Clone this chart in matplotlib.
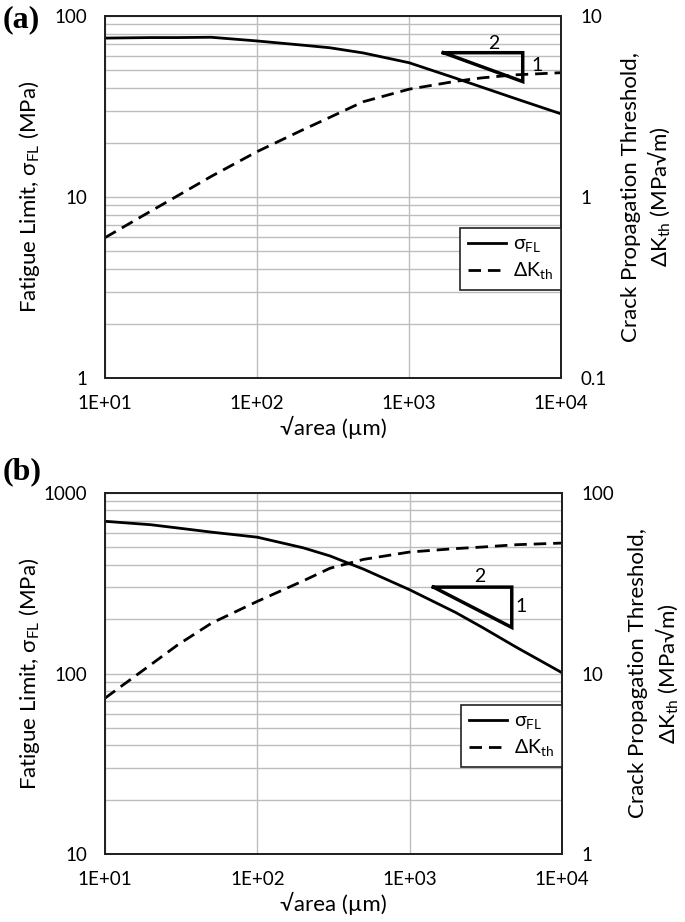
import matplotlib
matplotlib.use("Agg")
import matplotlib.pyplot as plt
from matplotlib.ticker import FixedLocator, FixedFormatter, NullFormatter, LogLocator

plt.rcParams['font.family'] = ['Lato', 'DejaVu Sans']
plt.rcParams['mathtext.fontset'] = 'custom'
plt.rcParams['mathtext.rm'] = 'Lato'

# ---------------- data ----------------
sqrt_area = [10, 20, 30, 50, 100, 200, 300, 500, 1000, 2000, 3000, 5000, 10000]

# panel (a)
sigma_a = [75.5, 76, 76, 76.3, 72.8, 69, 66.8, 62.5, 55.2, 45.5, 40.5, 35.0, 28.8]
dk_a = [0.596, 0.835, 1.015, 1.30, 1.78, 2.35, 2.75, 3.36, 3.94, 4.35, 4.55, 4.73, 4.86]

# panel (b)
sigma_b = [697, 667, 640, 607, 569, 497, 448, 378, 291, 218, 180, 140, 101]
dk_b = [7.3, 11.2, 14.4, 19.0, 25.1, 32.6, 38.3, 42.9, 47.1, 49.2, 50.2, 51.7, 52.8]

# slope triangles (data coords on left axis)
tri_a_x = [1683, 5600, 5600, 1683]
tri_a_y = [62.7, 62.7, 43.4, 62.7]
tri_b_x = [1432, 4680, 4680, 1432]
tri_b_y = [301, 301, 180, 301]
tri_a_labels = [("2", 3620, 70.6), ("1", 6920, 53.6)]
tri_b_labels = [("2", 2900, 346), ("1", 5360, 235)]

xticks = [10, 100, 1000, 10000]
xtick_labels = ['1E+01', '1E+02', '1E+03', '1E+04']

yl_a = [1, 10, 100]
yl_a_labels = ['1', '10', '100']
yr_a = [0.1, 1, 10]
yr_a_labels = ['0.1', '1', '10']
yl_b = [10, 100, 1000]
yl_b_labels = ['10', '100', '1000']
yr_b = [1, 10, 100]
yr_b_labels = ['1', '10', '100']

W, H = 685, 922
fig = plt.figure(figsize=(W / 100, H / 100), dpi=100)

GRID = '#bdbdbd'
FS_TICK = 13.5
FS_LAB = 16


def make_panel(rect, sig, dk, yl, yl_lab, yr, yr_lab, tx, ty, tlabels, letter, letter_xy):
    ax = fig.add_axes(rect)
    ax.set_xscale('log')
    ax.set_yscale('log')
    ax.set_xlim(xticks[0], xticks[-1])
    ax.set_ylim(yl[0], yl[-1])
    ax.xaxis.set_major_locator(FixedLocator(xticks))
    ax.xaxis.set_major_formatter(FixedFormatter(xtick_labels))
    ax.xaxis.set_minor_formatter(NullFormatter())
    ax.xaxis.set_minor_locator(FixedLocator([]))
    ax.yaxis.set_major_locator(FixedLocator(yl))
    ax.yaxis.set_major_formatter(FixedFormatter(yl_lab))
    ax.yaxis.set_minor_locator(LogLocator(base=10, subs=range(2, 10)))
    ax.yaxis.set_minor_formatter(NullFormatter())
    ax.grid(True, which='major', axis='x', color=GRID, lw=1)
    ax.grid(True, which='both', axis='y', color=GRID, lw=1)
    ax.set_axisbelow(True)
    ax.tick_params(which='both', length=0, labelsize=FS_TICK)
    ax.tick_params(axis='y', pad=13)
    ax.tick_params(axis='x', pad=12)
    for s in ax.spines.values():
        s.set_color('#222222')
        s.set_linewidth(1.4)
    l1, = ax.plot(sqrt_area, sig, color='black', lw=2, label=r'σ$_{\mathregular{FL}}$')
    ax.plot(tx, ty, color='black', lw=2.5, solid_joinstyle='miter')
    for t, x, y in tlabels:
        ax.text(x, y, t, fontsize=14, ha='center', va='center')
    ax.set_ylabel(r'Fatigue Limit, σ$_{\mathregular{FL}}$ (MPa)', fontsize=FS_LAB)
    ax.yaxis.set_label_coords(-0.138, 0.5)
    ax.set_xlabel('√area (µm)', fontsize=FS_LAB, labelpad=3)

    ax2 = ax.twinx()
    ax2.set_yscale('log')
    ax2.set_ylim(yr[0], yr[-1])
    ax2.yaxis.set_major_locator(FixedLocator(yr))
    ax2.yaxis.set_major_formatter(FixedFormatter(yr_lab))
    ax2.yaxis.set_minor_locator(FixedLocator([]))
    ax2.tick_params(which='both', length=0, labelsize=FS_TICK, pad=14)
    for s in ax2.spines.values():
        s.set_color('#222222')
        s.set_linewidth(1.4)
    l2, = ax2.plot(sqrt_area, dk, color='black', lw=2, linestyle=(0, (4.5, 2.5)),
                   label=r'ΔK$_{\mathregular{th}}$')
    ax2.set_ylabel('Crack Propagation Threshold,\n' + r'ΔK$_{\mathregular{th}}$ (MPa√m)',
                   fontsize=FS_LAB, labelpad=10, linespacing=1.25)
    leg = ax2.legend(handles=[l1, l2], loc='upper right', bbox_to_anchor=(1.0, 0.414),
                     borderaxespad=0, fancybox=False, framealpha=1, edgecolor='#222222',
                     fontsize=14, handlelength=2.0, handletextpad=0.35,
                     borderpad=0.4, labelspacing=0.3)
    leg.get_frame().set_linewidth(1.2)
    fig.text(letter_xy[0] / W, 1 - letter_xy[1] / H, letter, fontsize=23, fontweight='bold',
             family='Liberation Serif', ha='center', va='center')
    return ax, ax2


make_panel([105 / W, 1 - 378 / H, 456 / W, 362 / H], sigma_a, dk_a, yl_a, yl_a_labels,
           yr_a, yr_a_labels, tri_a_x, tri_a_y, tri_a_labels, '(a)', (21, 20))
make_panel([105 / W, 1 - 854 / H, 457 / W, 361 / H], sigma_b, dk_b, yl_b, yl_b_labels,
           yr_b, yr_b_labels, tri_b_x, tri_b_y, tri_b_labels, '(b)', (22, 472))

fig.savefig('out.png', dpi=100)
